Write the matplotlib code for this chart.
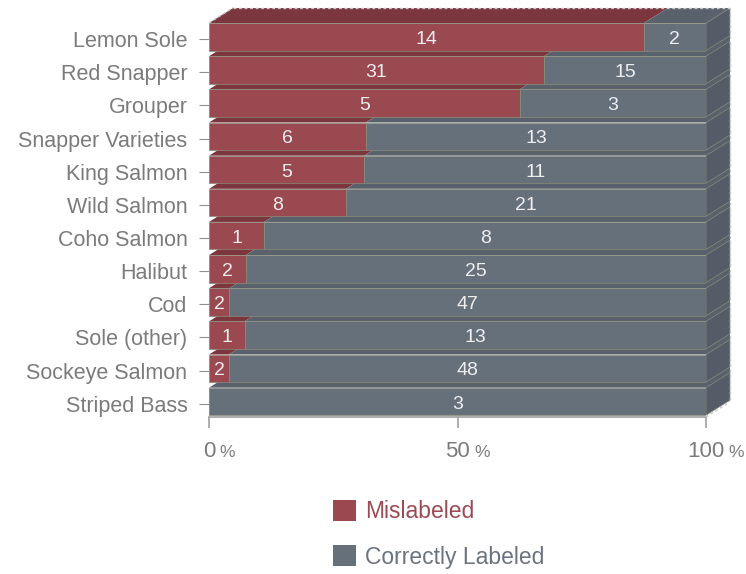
import numpy as np
import matplotlib.pyplot as plt
from matplotlib.patches import Polygon, Patch

plt.rcParams['font.family'] = ['Liberation Sans', 'DejaVu Sans']

# data
fish = ['Lemon Sole', 'Red Snapper', 'Grouper', 'Snapper Varieties', 'King Salmon',
        'Wild Salmon', 'Coho Salmon', 'Halibut', 'Cod', 'Sole (other)',
        'Sockeye Salmon', 'Striped Bass']
mislabeled = [14, 31, 5, 6, 5, 8, 1, 2, 2, 1, 2, 0]
correct = [2, 15, 3, 13, 11, 21, 8, 25, 47, 13, 48, 3]
series_names = ['Mislabeled', 'Correctly Labeled']
xticks = [0, 50, 100]

# colours
red_front, red_top = '#9b4951', '#7c373e'
gray_front, gray_top, gray_side = '#66707b', '#59626c', '#545d67'
txt_gray = '#7b7b7b'
edge = '#8a8c78'

fig = plt.figure(figsize=(7.46, 5.74), dpi=100)
ax = fig.add_axes([209/746, 157/574, 497/746, 410/574])
ax.set_xlim(0, 100)
ax.set_ylim(11.47, -0.9)

dx = 24 / 497 * 100   # depth in x (data units)
dy = 15 / 33.14       # depth in y (rows)
h = 0.83              # bar height

m = np.array(mislabeled, dtype=float)
c = np.array(correct, dtype=float)
pct = 100 * m / (m + c)
rows = np.arange(len(fish))

# side panel behind everything (fills gaps between side faces)
ax.add_patch(Polygon([(100, rows[0] - h/2), (100 + dx, rows[0] - h/2 - dy),
                      (100 + dx, rows[-1] + h/2 - dy), (100, rows[-1] + h/2)],
                     closed=True, fc=gray_top, ec='none', clip_on=False, zorder=1))

# 3d faces, drawn bottom row first
for i in rows[::-1]:
    p = pct[i]
    top, bot = i - h/2, i + h/2
    if p > 0:
        ax.add_patch(Polygon([(0, top), (p, top), (p + dx, top - dy), (dx, top - dy)],
                             closed=True, fc=red_top, ec='none', clip_on=False, zorder=2))
    ax.add_patch(Polygon([(p, top), (100, top), (100 + dx, top - dy), (p + dx, top - dy)],
                         closed=True, fc=gray_top, ec='none', clip_on=False, zorder=2))
    ax.add_patch(Polygon([(100, top), (100 + dx, top - dy), (100 + dx, bot - dy), (100, bot)],
                         closed=True, fc=gray_side, ec=edge, lw=0.5, clip_on=False, zorder=2))

# front faces
ax.barh(rows, pct, height=h, color=red_front, edgecolor=edge, linewidth=0.5, zorder=3)
ax.barh(rows, 100 - pct, left=pct, height=h, color=gray_front, edgecolor=edge,
        linewidth=0.5, zorder=3)

# value labels
for i in rows:
    if m[i] > 0:
        ax.text(pct[i] / 2, i + 0.08, '%d' % m[i], ha='center', va='center',
                color='#eeeeee', fontsize=14, zorder=5)
    if c[i] > 0:
        ax.text((pct[i] + 100) / 2, i + 0.08, '%d' % c[i], ha='center', va='center',
                color='#eeeeee', fontsize=14, zorder=5)

# dashed back plane / floor lines
dash = dict(color='#c8c8c8', lw=1, ls=(0, (2, 2)), clip_on=False, zorder=6)
ax.plot([dx, 100 + dx], [-0.88, -0.88], **dash)
ax.plot([100 + dx, 100 + dx], [-0.88, 11.47 - dy], **dash)
ax.plot([0, dx], [rows[0] - h/2, -0.88], **dash)
ax.plot([100, 100 + dx], [11.47, 11.47 - dy], **dash)

# axes styling
for s in ['top', 'right', 'left']:
    ax.spines[s].set_visible(False)
ax.spines['bottom'].set_color('#a0a0a0')
ax.spines['bottom'].set_linewidth(1.2)
ax.set_yticks(rows + 0.07)
ax.set_yticklabels(fish, fontsize=15.5, color=txt_gray)
ax.tick_params(axis='y', length=7, color='#909090', pad=8.5)
ax.set_xticks(xticks)
ax.set_xticklabels([''] * len(xticks))
ax.tick_params(axis='x', length=8, width=1.2, color='#a0a0a0')

for t in xticks:
    num = ax.annotate('%d' % t, xy=(t, 0), xycoords=('data', 'axes fraction'),
                      xytext=(0, -17), textcoords='offset points',
                      ha='center', va='top', fontsize=16, color=txt_gray)
    ax.annotate('%', xy=(1, 0.08), xycoords=num, xytext=(3, 0),
                textcoords='offset points', ha='left', va='bottom',
                fontsize=12.5, color=txt_gray)

# legend
handles = [Patch(fc=red_front, ec='none'), Patch(fc=gray_front, ec='none')]
fig.legend(handles, series_names, loc='upper left',
           bbox_to_anchor=(333/746, 1 - 500/574), frameon=False,
           fontsize=16.5, borderpad=0, borderaxespad=0,
           handlelength=1.0, handleheight=1.05, handletextpad=0.4,
           labelspacing=0.95, labelcolor=['#9c4a54', '#6a7480'])

fig.savefig('out.png', dpi=100)
